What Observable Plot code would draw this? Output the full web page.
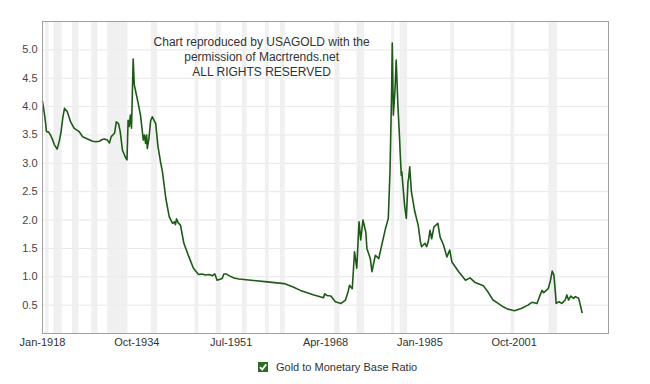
<!DOCTYPE html>
<html>
<head>
<meta charset="utf-8">
<script src="https://cdn.jsdelivr.net/npm/d3@7"></script>
<script src="https://cdn.jsdelivr.net/npm/@observablehq/plot@0.6"></script>
<style>
  html, body { margin: 0; padding: 0; background: #fff; }
  body { width: 650px; height: 384px; position: relative; font-family: "Liberation Sans", Arial, sans-serif; }
  #legend { position: absolute; left: 258px; top: 361px; display: flex; align-items: center; font-size: 11px; color: #333; }
  #legend svg { margin-right: 8px; }
</style>
</head>
<body>
<div id="chart"></div>
<div id="legend"></div>
<script>
// ---- data ----
const years = [
  1918.0,1918.3,1918.5,1918.7,1919.1,1919.4,1919.7,1920.1,1920.6,1921.0,1921.3,1921.6,1921.9,1922.4,
  1923.0,1923.6,1924.5,1925.1,1926.0,1926.9,1927.5,1928.1,1928.6,1929.0,1929.5,1929.9,1930.2,1930.8,
  1931.1,1931.5,1931.8,1932.2,1932.8,1933.0,1933.2,1933.4,1933.6,1933.8,1934.1,1934.3,1934.8,1935.4,
  1935.9,1936.1,1936.3,1936.5,1936.6,1936.9,1937.2,1937.5,1938.1,1938.5,1939.0,1939.3,1939.9,1940.5,
  1941.1,1941.4,1941.6,1941.8,1942.1,1942.5,1943.1,1944.0,1944.8,1945.7,1946.3,1946.9,1947.5,1948.2,
  1948.6,1949.0,1949.9,1950.2,1950.6,1951.1,1952.0,1952.9,1955.0,1957.9,1960.9,1962.5,1963.8,1966.2,
  1967.9,1968.1,1968.5,1969.2,1970.0,1971.0,1971.8,1972.3,1972.5,1973.0,1973.4,1973.8,1974.2,1974.5,
  1974.9,1975.4,1975.6,1976.2,1976.5,1977.1,1977.7,1978.3,1978.9,1979.4,1979.7,1980.0,1980.1,1980.3,
  1980.6,1980.8,1981.1,1981.4,1981.5,1981.7,1981.8,1982.0,1982.3,1982.6,1982.9,1983.0,1983.2,1983.5,
  1984.1,1984.7,1985.1,1985.3,1985.9,1986.2,1986.5,1986.8,1987.1,1987.5,1988.2,1988.6,1989.2,1989.8,
  1990.3,1990.7,1991.9,1993.1,1993.9,1994.8,1996.3,1997.1,1998.0,1998.9,1999.8,2000.6,2001.8,2003.0,
  2004.2,2004.9,2005.8,2006.4,2006.7,2007.0,2007.8,2008.2,2008.5,2008.8,2009.1,2009.2,2009.7,2010.2,
  2010.8,2011.1,2011.4,2011.8,2012.3,2012.6,2013.2,2013.5,2013.8
];
const ratios = [
  4.09,3.90,3.75,3.56,3.55,3.50,3.44,3.33,3.25,3.40,3.56,3.80,3.97,3.91,
  3.73,3.62,3.56,3.47,3.43,3.39,3.38,3.39,3.42,3.43,3.41,3.36,3.47,3.53,
  3.73,3.70,3.56,3.23,3.09,3.06,3.76,3.65,3.85,3.62,4.84,4.38,4.15,3.85,
  3.41,3.50,3.35,3.50,3.26,3.44,3.75,3.82,3.70,3.30,3.00,2.85,2.38,2.06,
  1.94,1.97,1.92,2.02,1.95,1.91,1.59,1.35,1.15,1.04,1.05,1.03,1.04,1.02,
  1.05,0.94,0.97,1.05,1.05,1.02,0.98,0.96,0.94,0.91,0.88,0.82,0.76,0.68,
  0.63,0.70,0.67,0.66,0.56,0.53,0.59,0.75,0.85,0.79,1.44,1.15,1.97,1.65,
  2.00,1.79,1.50,1.32,1.09,1.38,1.32,1.59,1.85,2.03,2.85,4.32,5.12,3.85,
  4.32,4.82,4.03,3.44,3.20,2.79,2.85,2.60,2.25,2.03,2.68,2.73,2.94,2.50,
  2.15,1.91,1.62,1.53,1.59,1.53,1.62,1.82,1.67,1.88,1.94,1.70,1.56,1.35,
  1.47,1.26,1.09,0.94,0.98,0.90,0.84,0.73,0.59,0.53,0.47,0.43,0.40,0.44,
  0.50,0.55,0.53,0.69,0.76,0.72,0.79,0.94,1.10,1.03,0.68,0.53,0.56,0.53,
  0.59,0.68,0.59,0.66,0.62,0.65,0.62,0.50,0.37
];
// recession periods (shaded bands)
const recessionStarts = ["1918-08","1920-01","1923-05","1926-10","1929-08","1937-05","1945-02","1948-11","1953-07","1957-08","1960-04","1969-12","1973-11","1980-01","1981-07","1990-07","2001-03","2007-12"];
const recessionEnds   = ["1919-03","1921-07","1924-07","1927-11","1933-03","1938-06","1945-10","1949-10","1954-05","1958-04","1961-02","1970-11","1975-03","1980-07","1982-11","1991-03","2001-11","2009-06"];
const tickDates  = ["1918-01","1934-10","1951-07","1968-04","1985-01","2001-10"];
const tickLabels = ["Jan-1918","Oct-1934","Jul-1951","Apr-1968","Jan-1985","Oct-2001"];
const yTicks = [0.5,1.0,1.5,2.0,2.5,3.0,3.5,4.0,4.5,5.0];
const gridValues = [0.5,1.0,1.5,2.0,2.5,3.0,3.5,4.0,4.5,5.0];
const seriesName = "Gold to Monetary Base Ratio";
const noteLines = ["Chart reproduced by USAGOLD with the", "permission of Macrtrends.net", "ALL RIGHTS RESERVED"];
const noteYear = 1956.9, noteValue = 5.25;
const xDomain = ["1918-01", "2018-07"];

// ---- build ----
const toDate = (y) => {
  const yr = Math.floor(y);
  const a = Date.UTC(yr, 0, 1), b = Date.UTC(yr + 1, 0, 1);
  return new Date(a + (y - yr) * (b - a));
};
const parse = (s) => new Date(s + "-01T00:00:00Z");
const series = years.map((y, i) => ({date: toDate(y), value: ratios[i]}));
const recessions = recessionStarts.map((s, i) => ({start: parse(s), end: parse(recessionEnds[i])}));
const tickMap = new Map(tickDates.map((d, i) => [+parse(d), tickLabels[i]]));

const chart = Plot.plot({
  width: 650,
  height: 352,
  marginLeft: 42,
  marginRight: 42,
  marginTop: 21,
  marginBottom: 19,
  style: {fontFamily: '"Liberation Sans", Arial, sans-serif', fontSize: "11px", color: "#444", background: "#fff"},
  x: {type: "utc", domain: xDomain.map(parse)},
  y: {domain: [0, 5.5]},
  marks: [
    Plot.gridY(gridValues, {stroke: "#e6e6e6", strokeOpacity: 1}),
    Plot.rectX(recessions, {x1: "start", x2: "end", y1: 0, y2: 5.5, fill: "#ededed", fillOpacity: 0.85}),
    Plot.axisY(yTicks, {tickSize: 0, tickPadding: 5, tickFormat: d3.format(".1f"), label: null, fill: "#444"}),
    Plot.axisX(tickDates.map(parse), {tickSize: 0, tickPadding: 5, tickFormat: (d) => tickMap.get(+d), label: null, fill: "#333"}),
    Plot.line(series, {x: "date", y: "value", stroke: "#1d5a17", strokeWidth: 1.6, curve: "linear"}),
    Plot.text([noteLines.join("\n")], {x: () => toDate(noteYear), y: () => noteValue, text: (d) => d, lineAnchor: "top", lineHeight: 1.25, fontSize: 12, fill: "#333", textAnchor: "middle"}),
    Plot.frame({stroke: "#a0a0a0"})
  ]
});
document.getElementById("chart").appendChild(chart);

// legend
const lg = document.getElementById("legend");
lg.innerHTML = '<svg width="10" height="10" viewBox="0 0 10 10"><rect width="10" height="10" fill="#2c6b22"/><path d="M2 5.2 L4.2 7.6 L8.2 2.4" stroke="#fff" stroke-width="1.8" fill="none"/></svg>';
const sp = document.createElement("span");
sp.textContent = seriesName;
lg.appendChild(sp);
</script>
</body>
</html>
